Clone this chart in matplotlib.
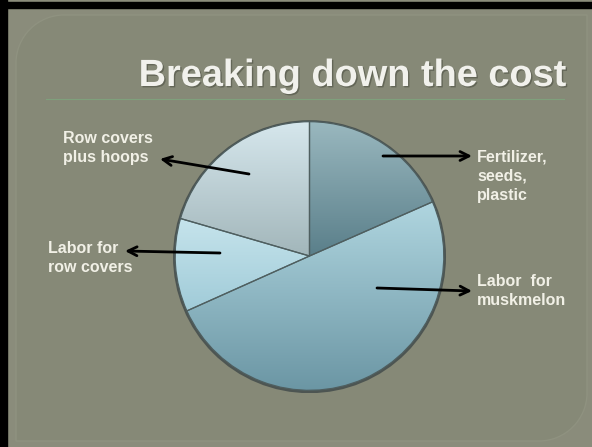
import numpy as np
import matplotlib
matplotlib.use('Agg')
import matplotlib.pyplot as plt
from matplotlib.path import Path
from matplotlib.patches import PathPatch
import matplotlib.patheffects as pe

# cost shares, clockwise from 12 o'clock
categories = ['Fertilizer,\nseeds,\nplastic', 'Labor  for\nmuskmelon',
              'Labor for\nrow covers', 'Row covers\nplus hoops']
shares = [18.4, 49.9, 11.2, 20.5]

# top / bottom gradient colour of each slice
grad_top = ['#9ab8bf', '#b0d6e0', '#c6e4ec', '#d6e7ed']
grad_bot = ['#5a7f8a', '#6a95a3', '#a0cbd8', '#a2b6ba']

W, H = 592, 447
fig = plt.figure(figsize=(W / 100, H / 100), dpi=100)
fig.patch.set_facecolor('#8a8c7b')

# background slide
bg = fig.add_axes([0, 0, 1, 1], zorder=0)
bg.set_xlim(0, W)
bg.set_ylim(H, 0)
bg.axis('off')
bg.fill_between([0, W], 0, H, color='#8a8c7b', zorder=0)

# panel with rounded top-left and bottom-right corners
x0, y0, x1, y1, r = 16, 15, 587, 441, 48
k = 0.55 * r
verts = [(x0, y0 + r), (x0, y0 + r - k), (x0 + r - k, y0), (x0 + r, y0),
         (x1, y0), (x1, y1 - r), (x1, y1 - r + k), (x1 - r + k, y1), (x1 - r, y1),
         (x0, y1), (x0, y0 + r)]
codes = [Path.MOVETO, Path.CURVE4, Path.CURVE4, Path.CURVE4,
         Path.LINETO, Path.LINETO, Path.CURVE4, Path.CURVE4, Path.CURVE4,
         Path.LINETO, Path.CLOSEPOLY]
bg.add_patch(PathPatch(Path(verts, codes), facecolor='#868977',
                       edgecolor='#8f9280', lw=1.0, zorder=1))

# black frame on top and left
bg.fill_between([0, W], 1.5, 8, color='black', zorder=3)
bg.fill_between([0, 7], 0, H, color='black', zorder=3)

# title and rule
bg.text(566, 86, 'Breaking down the cost', ha='right', va='baseline',
        fontsize=27.3, fontweight='bold', family='Liberation Sans', color='#f1f1ec',
        path_effects=[pe.withSimplePatchShadow(offset=(1, -1), shadow_rgbFace='#55584a', alpha=0.7)],
        zorder=4)
bg.plot([46, 564], [99, 99], color='#7fa07c', lw=0.8, zorder=4)

# pie
cx, cy, rad = 309.5, 256, 137
pax = fig.add_axes([(cx - rad) / W, (H - cy - rad) / H, 2 * rad / W, 2 * rad / H], zorder=1)
wedges, _ = pax.pie(shares, startangle=90, counterclock=False, radius=1,
                    wedgeprops=dict(edgecolor='#4f5f60', linewidth=0.9))
pax.set_xlim(-1.02, 1.02)
pax.set_ylim(-1.02, 1.02)
pax.set_aspect('equal')
pax.axis('off')

# pie shadow rim
rim = plt.Circle((0, -0.005), 1.005, facecolor='none', edgecolor='#4d5552', lw=2.2, zorder=0.5)
pax.add_patch(rim)

for w, ct, cb in zip(wedges, grad_top, grad_bot):
    ys = w.get_path().vertices[:, 1]
    ymin, ymax = ys.min(), ys.max()
    c_top = np.array(matplotlib.colors.to_rgb(ct))
    c_bot = np.array(matplotlib.colors.to_rgb(cb))
    t = np.linspace(0, 1, 256)[:, None]
    img = (c_top * (1 - t) + c_bot * t)[:, None, :]
    im = pax.imshow(img, extent=(-1, 1, ymin, ymax), origin='upper',
                    aspect='auto', zorder=1)
    im.set_clip_path(w)
    w.set_facecolor('none')
    w.set_zorder(2)

# labels and arrows
top = fig.add_axes([0, 0, 1, 1], zorder=2)
top.set_xlim(0, W)
top.set_ylim(H, 0)
top.axis('off')
top.patch.set_alpha(0)

label_pos = [(477, 149), (477, 274), (48, 241), (63, 131)]
arrows = [((383, 156), (472, 156)), ((377, 288), (472, 291)),
          ((220, 253), (125, 251)), ((249, 174), (160, 159))]
txt_kw = dict(fontsize=11.5, fontweight='bold', family='Liberation Sans',
              color='#f1f0e6', ha='left', va='top', linespacing=1.36)
for lab, (lx, ly), (a0, a1) in zip(categories, label_pos, arrows):
    top.text(lx, ly, lab, **txt_kw)
    top.annotate('', xy=a1, xytext=a0,
                 arrowprops=dict(arrowstyle='->', color='black', lw=2,
                                 mutation_scale=16, shrinkA=0, shrinkB=0))

plt.savefig('out.png', dpi=100, facecolor=fig.get_facecolor())
